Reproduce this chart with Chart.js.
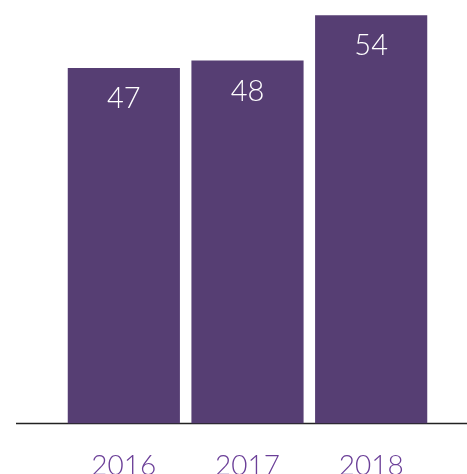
<!DOCTYPE html>
<html>
<head>
<meta charset="utf-8">
<script src="https://cdn.jsdelivr.net/npm/chart.js@4/dist/chart.umd.min.js"></script>
<style>
  html, body { margin: 0; padding: 0; background: #fff; }
  #wrap { width: 467px; height: 474px; }
</style>
</head>
<body>
<div id="wrap"><canvas id="chart"></canvas></div>
<script>
const years = ['2016', '2017', '2018'];
const values = [47, 48, 54];

const BAR_COLOR = '#563e73';
const LABEL_COLOR = '#6b3f98';
const FONT = 'Lato, "Open Sans", sans-serif';

// baseline across the whole width, at y = 0
const baseline = {
    id: 'baseline',
    beforeDatasetsDraw(chart) {
        const c = chart.ctx;
        const y = chart.scales.y.getPixelForValue(0);
        c.save();
        c.strokeStyle = '#222';
        c.lineWidth = 1.5;
        c.beginPath();
        c.moveTo(16, y);
        c.lineTo(chart.width, y);
        c.stroke();
        c.restore();
    }
};

// value labels inside the top of each bar
const valueLabels = {
    id: 'valueLabels',
    afterDatasetsDraw(chart) {
        const c = chart.ctx;
        const meta = chart.getDatasetMeta(0);
        c.save();
        c.fillStyle = '#fff';
        c.font = '300 29px ' + FONT;
        c.textAlign = 'center';
        c.textBaseline = 'middle';
        meta.data.forEach((bar, i) => {
            c.fillText(values[i], bar.x, bar.y + 31);
        });
        c.restore();
    }
};

new Chart(document.getElementById('chart'), {
    type: 'bar',
    data: {
        labels: years,
        datasets: [{
            data: values,
            backgroundColor: BAR_COLOR,
            categoryPercentage: 1,
            barPercentage: 0.907
        }]
    },
    options: {
        responsive: true,
        maintainAspectRatio: false,
        animation: false,
        layout: { padding: { left: 62, right: 34, top: 0, bottom: -34 } },
        plugins: { legend: { display: false }, tooltip: { enabled: false } },
        scales: {
            x: {
                grid: { display: false, drawTicks: false },
                border: { display: false },
                ticks: {
                    color: LABEL_COLOR,
                    font: { family: FONT, size: 28, weight: 300, lineHeight: 0.8 },
                    padding: 31
                }
            },
            y: {
                display: false,
                min: 0,
                max: 56
            }
        }
    },
    plugins: [baseline, valueLabels]
});
</script>
</body>
</html>
